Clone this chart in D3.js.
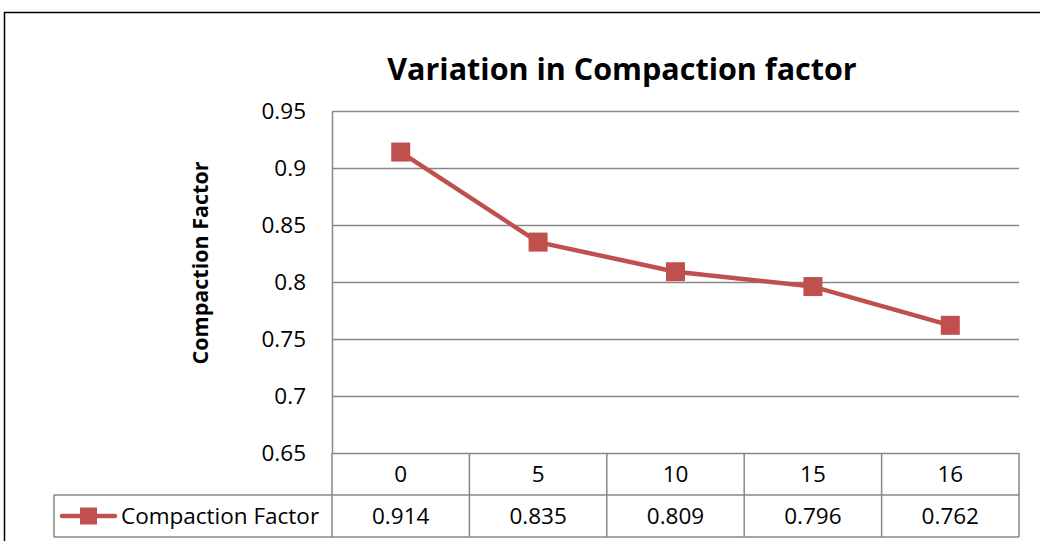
<!DOCTYPE html>
<html>
<head>
<meta charset="utf-8">
<script src="https://cdn.jsdelivr.net/npm/d3@7"></script>
<style>
  body { margin: 0; background: #fff; }
  svg { display: block; font-family: "Open Sans", Lato, sans-serif; }
</style>
</head>
<body>
<div id="chart"></div>
<script>
// chart data
var categories = ['0', '5', '10', '15', '16'];
var compactionFactor = [0.914, 0.835, 0.809, 0.796, 0.762];
var yTicks = [0.65, 0.7, 0.75, 0.8, 0.85, 0.9, 0.95];
var seriesName = 'Compaction Factor';
var chartTitle = 'Variation in Compaction factor';
var yTitle = 'Compaction Factor';

var W = 1040, H = 541;
var plot = {left: 332, right: 1019, top: 111, bottom: 453};
var rowH = 42;
var red = '#C0504D', grid = '#878787';
var fs = 22.5;

var svg = d3.select('#chart').append('svg')
	.attr('width', W)
	.attr('height', H);

// outer chart frame
svg.append('rect')
	.attr('x', 4.5).attr('y', 12.5)
	.attr('width', W + 20).attr('height', H + 20)
	.attr('fill', 'none').attr('stroke', '#000').attr('stroke-width', 1.5);

var x = d3.scaleBand().domain(categories).range([plot.left, plot.right]);
var y = d3.scaleLinear().domain([0.65, 0.95]).range([plot.bottom, plot.top]);

// y axis + gridlines
var yAxis = d3.axisLeft(y)
	.tickValues(yTicks)
	.tickFormat(function(d){ return d3.format('')(+d.toFixed(2)); })
	.tickSize(-(plot.right - plot.left))
	.tickSizeOuter(0)
	.tickPadding(26);
var gy = svg.append('g')
	.attr('transform', 'translate(' + plot.left + ',0)')
	.call(yAxis);
gy.select('.domain').attr('stroke', grid).attr('stroke-width', 1.5);
gy.selectAll('.tick line').attr('stroke', grid).attr('stroke-width', 1.5);
gy.selectAll('.tick text')
	.attr('font-size', fs)
	.attr('fill', '#000')
	.attr('font-family', '"Open Sans", sans-serif');

// title
svg.append('text')
	.attr('x', 622).attr('y', 80)
	.attr('text-anchor', 'middle')
	.attr('font-size', 30.5)
	.attr('font-weight', 'bold')
	.text(chartTitle);

// y axis title
svg.append('text')
	.attr('transform', 'translate(208,263) rotate(-90)')
	.attr('text-anchor', 'middle')
	.attr('font-size', 21.5)
	.attr('font-weight', 'bold')
	.text(yTitle);

// data table
var table = svg.append('g').attr('stroke', grid).attr('stroke-width', 1.5);
var legendLeft = 54;
// horizontal rules
table.append('line')
	.attr('x1', legendLeft).attr('x2', plot.right)
	.attr('y1', plot.bottom + rowH).attr('y2', plot.bottom + rowH);
table.append('line')
	.attr('x1', legendLeft).attr('x2', plot.right)
	.attr('y1', plot.bottom + 2 * rowH).attr('y2', plot.bottom + 2 * rowH);
table.append('line')
	.attr('x1', legendLeft).attr('x2', legendLeft)
	.attr('y1', plot.bottom + rowH).attr('y2', plot.bottom + 2 * rowH);
// column dividers
var edges = categories.map(function(c){ return x(c); }).concat([plot.right]);
table.selectAll('line.col')
	.data(edges)
	.enter().append('line')
	.attr('class', 'col')
	.attr('x1', function(d){ return d; }).attr('x2', function(d){ return d; })
	.attr('y1', plot.bottom).attr('y2', plot.bottom + 2 * rowH);

svg.selectAll('text.cat')
	.data(categories)
	.enter().append('text')
	.attr('class', 'cat')
	.attr('x', function(d){ return x(d) + x.bandwidth() / 2; })
	.attr('y', plot.bottom + rowH / 2 + 8)
	.attr('text-anchor', 'middle')
	.attr('font-size', fs)
	.text(function(d){ return d; });

svg.selectAll('text.val')
	.data(compactionFactor)
	.enter().append('text')
	.attr('class', 'val')
	.attr('x', function(d, i){ return x(categories[i]) + x.bandwidth() / 2; })
	.attr('y', plot.bottom + rowH * 1.5 + 8)
	.attr('text-anchor', 'middle')
	.attr('font-size', fs)
	.text(function(d){ return d3.format('.3f')(d); });

// legend key in table
var ly = plot.bottom + rowH * 1.5;
svg.append('line')
	.attr('x1', 62).attr('x2', 115)
	.attr('y1', ly).attr('y2', ly)
	.attr('stroke', red).attr('stroke-width', 4.5).attr('stroke-linecap', 'round');
svg.append('rect')
	.attr('x', 80).attr('y', ly - 8.5)
	.attr('width', 17).attr('height', 17)
	.attr('fill', red);
svg.append('text')
	.attr('x', 121).attr('y', ly + 8)
	.attr('font-size', fs)
	.text(seriesName);

// series line + markers
var line = d3.line()
	.x(function(d, i){ return x(categories[i]) + x.bandwidth() / 2; })
	.y(function(d){ return y(d); });
svg.append('path')
	.datum(compactionFactor)
	.attr('d', line)
	.attr('fill', 'none')
	.attr('stroke', red)
	.attr('stroke-width', 4.5)
	.attr('stroke-linejoin', 'round');
svg.selectAll('rect.pt')
	.data(compactionFactor)
	.enter().append('rect')
	.attr('class', 'pt')
	.attr('x', function(d, i){ return x(categories[i]) + x.bandwidth() / 2 - 9.5; })
	.attr('y', function(d){ return y(d) - 9.5; })
	.attr('width', 19).attr('height', 19)
	.attr('fill', red);
</script>
</body>
</html>
